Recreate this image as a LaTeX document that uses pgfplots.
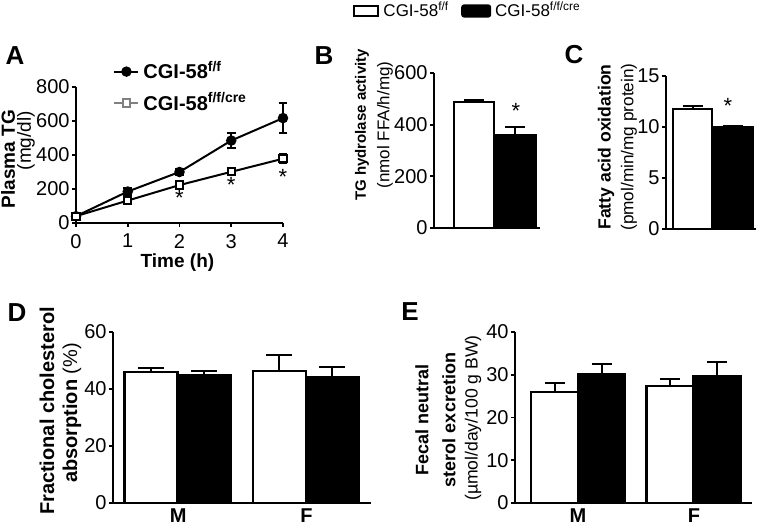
\documentclass[border=0pt]{standalone}
\usepackage{pgfplots}
\pgfplotsset{compat=1.18}
\usepackage{fontspec}
\setmainfont{Liberation Sans}
\begin{document}
\begin{tikzpicture}
\pgfplotsset{
 panel/.style={scale only axis, anchor=south west, clip=false,
   axis x line*=bottom, axis y line*=left, axis line style={-, line width=1pt},
   tick align=outside, major tick length=2pt, tick style={black, line width=0.9pt},
   /pgf/number format/assume math mode=true,
   ticklabel style={font=\fontsize{10}{12}\selectfont},
   yticklabel style={inner sep=1pt}},
 wbar/.style={ybar, bar shift=0pt, fill=white, draw=black, line width=1.2pt},
 bbar/.style={ybar, bar shift=0pt, fill=black, draw=black, line width=1.2pt},
 eb/.style={/pgfplots/error bars/y dir=plus, /pgfplots/error bars/y explicit,
   /pgfplots/error bars/error bar style={line width=1pt, black},
   /pgfplots/error bars/error mark options={rotate=90, line width=1pt, mark size=#1, black}},
 mfx/.style={xtick={#1}, xticklabels={M,F}, x tick style={draw=none},
   xticklabel style={font=\bfseries\fontsize{10}{12}\selectfont, inner sep=1pt, yshift=0.5pt}},
}
\path[use as bounding box] (0,0) rectangle (381pt,264pt);

% ---------- Panel A ----------
\begin{axis}[panel, at={(38pt,152.5pt)}, width=103.5pt, height=68pt,
  xmin=0, xmax=4, ymin=0, ymax=800, xtick={0,1,2,3,4}, ytick={0,200,400,600,800},
  xlabel={\bfseries Time (h)},
  xlabel style={font=\fontsize{9.5}{11}\selectfont, at={(axis description cs:0.49,-0.29)}, anchor=center},
  legend style={at={(0.15,1.25)}, anchor=north west, draw=none, fill=none,
    font=\bfseries\fontsize{10}{12}\selectfont, row sep=1.5pt},
  legend cell align=left,
  legend image code/.code={\draw[mark repeat=2,mark phase=2,#1] plot coordinates {(0pt,0pt) (6pt,0pt) (12pt,0pt)};}]
\addplot[black, line width=1pt, mark=*, mark size=2.1pt,
  error bars/.cd, y dir=both, y explicit, error bar style={line width=1pt}, error mark options={rotate=90, line width=1pt, mark size=2.2pt}]
  coordinates {(0,40) +- (0,6) (1,185) +- (0,20) (2,300) +- (0,15) (3,485) +- (0,45) (4,617) +- (0,90)};
\addlegendentry{CGI-58\textsuperscript{f/f}}
\addplot[forget plot, black, line width=1pt, mark=square*, mark size=1.8pt, mark options={fill=white},
  error bars/.cd, y dir=both, y explicit, error bar style={line width=1pt}, error mark options={rotate=90, line width=1pt, mark size=2.2pt}]
  coordinates {(0,40) +- (0,6) (1,132) +- (0,12) (2,223) +- (0,20) (3,301) +- (0,20) (4,378) +- (0,25)};
\addlegendimage{gray, line width=1pt, mark=square*, mark size=1.8pt, mark options={fill=white, draw=gray}}
\addlegendentry{CGI-58\textsuperscript{f/f/cre}}
\node[font=\fontsize{11}{12}\selectfont] at (axis cs:2,150) {*};
\node[font=\fontsize{11}{12}\selectfont] at (axis cs:3,222) {*};
\node[font=\fontsize{11}{12}\selectfont] at (axis cs:4,272) {*};
\end{axis}

% ---------- Panel B ----------
\begin{axis}[panel, at={(217pt,150pt)}, width=53pt, height=77.5pt,
  xmin=0, xmax=106, ymin=0, ymax=600, xtick=\empty, ytick={0,200,400,600},
  legend style={at={(-0.82,1.40)}, anchor=west, draw=none, fill=none, legend columns=2,
    font=\fontsize{8.5}{10}\selectfont, /tikz/every even column/.append style={column sep=4pt}}]
\addplot[forget plot, wbar, bar width=40, eb=5pt] coordinates {(40,488) +- (0,9)};
\addplot[forget plot, bbar, bar width=42, eb=5pt] coordinates {(81,359) +- (0,31)};
\addlegendimage{legend image code/.code={\draw[fill=white,draw=black,line width=1pt] (0pt,-2.6pt) rectangle (12pt,2.6pt);}}
\addlegendentry{CGI-58\textsuperscript{f/f}}
\addlegendimage{legend image code/.code={\draw[fill=black,draw=black,line width=1pt,rounded corners=1pt] (0pt,-2.8pt) rectangle (14pt,2.8pt);}}
\addlegendentry{CGI-58\textsuperscript{f/f/cre}}
\node[font=\fontsize{11}{12}\selectfont] at (axis cs:82,455) {*};
\end{axis}

% ---------- Panel C ----------
\begin{axis}[panel, at={(333pt,149.5pt)}, width=45pt, height=76.5pt,
  xmin=0, xmax=90, ymin=0, ymax=15, xtick=\empty, ytick={0,5,10,15}]
\addplot[wbar, bar width=39, eb=5pt] coordinates {(26.5,11.74) +- (0,0.28)};
\addplot[bbar, bar width=41, eb=5pt] coordinates {(66.5,10.0) +- (0,0.1)};
\node[font=\fontsize{11}{12}\selectfont] at (axis cs:62,12.1) {*};
\end{axis}

% ---------- Panel D ----------
\begin{axis}[panel, at={(56.5pt,12.5pt)}, width=128.5pt, height=85.5pt,
  xmin=0, xmax=257, ymin=0, ymax=60, ytick={0,20,40,60}, mfx={65,193}]
\addplot[wbar, bar width=53, eb=6.5pt] coordinates {(38,46.0) +- (0,1.4) (166,46.4) +- (0,5.6)};
\addplot[bbar, bar width=53, eb=6.5pt] coordinates {(91,44.8) +- (0,1.5) (219,44.0) +- (0,3.8)};
\end{axis}

% ---------- Panel E ----------
\begin{axis}[panel, at={(257.5pt,12.5pt)}, width=118.5pt, height=85.5pt,
  xmin=0, xmax=237, ymin=0, ymax=40, ytick={0,10,20,30,40}, mfx={63,179}]
\addplot[wbar, bar width=47, eb=5pt] coordinates {(39.5,26.0) +- (0,2.0) (155,27.4) +- (0,1.5)};
\addplot[bbar, bar width=47, eb=5pt] coordinates {(86.5,30.2) +- (0,2.3) (202,29.7) +- (0,3.2)};
\end{axis}

% ---------- axis titles ----------
\node[rotate=90, font=\bfseries\fontsize{9.5}{11}\selectfont, anchor=east] at (4pt,212.5pt) {Plasma TG};
\node[rotate=90, font=\fontsize{9.5}{11}\selectfont, anchor=east] at (13pt,212pt) {(mg/dl)};
\node[rotate=90, font=\bfseries\fontsize{7.5}{9}\selectfont] at (181pt,201.5pt) {TG hydrolase activity};
\node[rotate=90, font=\fontsize{8.5}{10}\selectfont] at (192.5pt,201.5pt) {(nmol FFA/h/mg)};
\node[rotate=90, font=\bfseries\fontsize{8.8}{11}\selectfont] at (303pt,190.5pt) {Fatty acid oxidation};
\node[rotate=90, font=\fontsize{8.6}{11}\selectfont] at (314.5pt,190.5pt) {(pmol/min/mg protein)};
\node[rotate=90, font=\bfseries\fontsize{10}{12}\selectfont] at (23.5pt,58.5pt) {Fractional cholesterol};
\node[rotate=90, font=\fontsize{10}{12}\selectfont] at (36pt,57.5pt) {\bfseries absorption \mdseries(\%)};
\node[rotate=90, font=\bfseries\fontsize{9}{11}\selectfont] at (211pt,54pt) {Fecal neutral};
\node[rotate=90, font=\bfseries\fontsize{9}{11}\selectfont] at (224.5pt,54pt) {sterol excretion};
\node[rotate=90, font=\fontsize{8.8}{11}\selectfont] at (236.5pt,55pt) {(µmol/day/100 g BW)};

% ---------- panel letters ----------
\node[font=\bfseries\fontsize{13}{15}\selectfont] at (7.5pt,236pt) {A};
\node[font=\bfseries\fontsize{13}{15}\selectfont] at (162pt,236pt) {B};
\node[font=\bfseries\fontsize{13}{15}\selectfont] at (287pt,236.5pt) {C};
\node[font=\bfseries\fontsize{13}{15}\selectfont] at (8.5pt,107.5pt) {D};
\node[font=\bfseries\fontsize{13}{15}\selectfont] at (205pt,108pt) {E};
\end{tikzpicture}
\end{document}
